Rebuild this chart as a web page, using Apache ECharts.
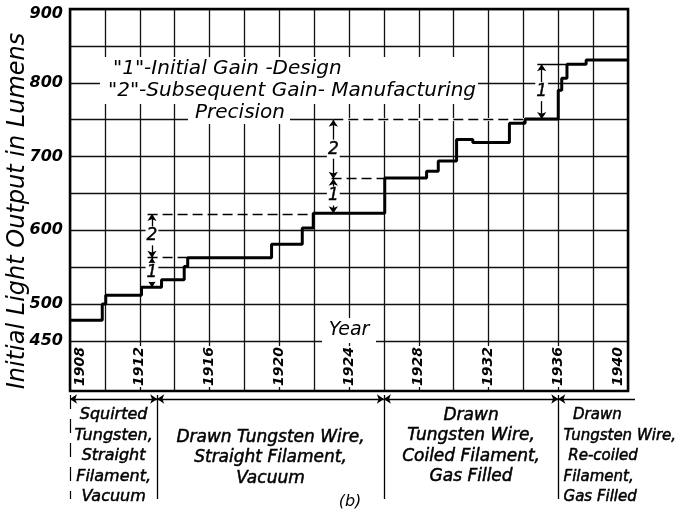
<!DOCTYPE html>
<html>
<head>
<meta charset="utf-8">
<script src="https://cdn.jsdelivr.net/npm/echarts@6/dist/echarts.min.js"></script>
<style>
  html, body { margin: 0; padding: 0; background: #fff; }
  #chart { width: 681px; height: 513px; }
</style>
</head>
<body>
<div id="chart"></div>
<script>
// Initial light output of the lamp: year each new level begins and its value in lumens
const stepYears  = [1908, 1909.85, 1910.05, 1912.1, 1913.25, 1914.55, 1914.75, 1919.56, 1921.32, 1921.95,
                    1926.05, 1928.45, 1929.12, 1930.17, 1931.1, 1933.2, 1934.1, 1936.0, 1936.2, 1936.5, 1937.6];
const stepLumens = [478, 500, 512, 523, 533, 551, 563, 581, 603, 623,
                    671, 680, 694, 723, 719, 745, 751, 790, 806, 825, 831];
const lastYear = 1940;

// Axis labels
const yearTicks  = [1908, 1912, 1916, 1920, 1924, 1928, 1932, 1936, 1940];
const lumenTicks = [450, 500, 600, 700, 800, 900];

// Gain brackets ("1" initial gain, "2" subsequent gain)
const bracketYears = [1912.7, 1912.7, 1923.1, 1923.1, 1935.05];
const bracketFrom  = [523, 563, 623, 670, 751];
const bracketTo    = [563, 622, 670, 750, 825];
const bracketTags  = ['1', '2', '1', '2', '1'];

// Reference lines leading to the brackets
const guideLevel  = [622, 563, 750, 670, 825];
const guideFrom   = [1912.45, 1912.45, 1923.1, 1923.0, 1934.8];
const guideTo     = [1921.95, 1914.75, 1934.1, 1926.05, 1936.5];
const guideDashed = [true, true, true, true, false];

// Lamp construction eras
const eraBounds = [1908, 1913, 1926, 1936];
const eraEnd = 1940.4;
const eraText = [
  'Squirted\nTungsten,\nStraight\nFilament,\nVacuum',
  'Drawn Tungsten Wire,\nStraight Filament,\nVacuum',
  'Drawn\nTungsten Wire,\nCoiled Filament,\nGas Filled',
  '  Drawn\nTungsten Wire,\n Re-coiled\nFilament,\nGas Filled'
];

const FONT = 'DejaVu Sans';

// step outline: horizontal run for each level, vertical rise at the next year
const stepPts = [];
stepYears.forEach((y, i) => {
  const end = i < stepYears.length - 1 ? stepYears[i + 1] : lastYear;
  stepPts.push([y, stepLumens[i]]);
  stepPts.push([end, stepLumens[i]]);
});

const seg = (x1, y1, x2, y2) => ({ coords: [[x1, y1], [x2, y2]] });

const dashedGuides = [], solidGuides = [], maskGuides = [];
guideLevel.forEach((v, i) => {
  const s = seg(guideFrom[i], v, guideTo[i], v);
  (guideDashed[i] ? dashedGuides : solidGuides).push(s);
  if (guideDashed[i] && v % 50 === 0) maskGuides.push(s);
});
const bracketSegs = bracketYears.map((y, i) => seg(y, bracketFrom[i], y, bracketTo[i]));

// construction era panel
const eraSeparators = eraBounds.map(b => seg(b, 2, b, 106));
const eraDims = [];
eraBounds.forEach((b, i) => {
  if (i < eraBounds.length - 1) eraDims.push(seg(b, 6, eraBounds[i + 1], 6));
});
const eraOpenDim = [seg(eraBounds[eraBounds.length - 1], 6, eraEnd, 6)];

const gridLine = { lineStyle: { color: '#111', width: 1.3 } };

const option = {
  animation: false,
  backgroundColor: '#fff',
  grid: [
    { left: 70, top: 9, width: 558, height: 332 },
    { left: 70, top: 341, width: 558, height: 50 },
    { left: 70, top: 9, width: 558, height: 382, show: true, borderColor: '#000', borderWidth: 2.5,
      backgroundColor: 'transparent', z: 3 },
    { left: 70, top: 393, width: 565, height: 115 }
  ],
  xAxis: [
    { gridIndex: 0, type: 'value', min: 1908, max: 1940, interval: 2,
      axisLine: { show: false }, axisTick: { show: false }, axisLabel: { show: false }, splitLine: gridLine },
    { gridIndex: 1, type: 'value', min: 1908, max: 1940, interval: 2,
      axisLine: { show: false }, axisTick: { show: false }, splitLine: gridLine,
      axisLabel: {
        inside: true, rotate: 90, margin: 4,
        formatter: v => {
          if (!yearTicks.includes(v)) return '';
          if (v === yearTicks[0]) return '{s| }\n{y|' + v + '}';
          if (v === yearTicks[yearTicks.length - 1]) return '{y|' + v + '}\n{s| }';
          return '{y|' + v + '}';
        },
        rich: {
          y: { fontFamily: FONT, fontSize: 14, fontStyle: 'italic', fontWeight: 'bold', color: '#000',
               backgroundColor: '#fff', padding: [0, 1], lineHeight: 16 },
          s: { fontSize: 10, height: 20, lineHeight: 20 }
        }
      } },
    { gridIndex: 2, type: 'value', min: 1908, max: 1940, show: false },
    { gridIndex: 3, type: 'value', min: 1908, max: eraEnd, show: false }
  ],
  yAxis: [
    { gridIndex: 0, type: 'value', min: 450, max: 900, interval: 50,
      axisLine: { show: false }, axisTick: { show: false }, splitLine: gridLine,
      axisLabel: {
        margin: 7, fontFamily: FONT, fontSize: 16, fontStyle: 'italic', fontWeight: 'bold', color: '#000',
        formatter: v => lumenTicks.includes(v) ? (v === 900 ? '{t|900}' : String(v)) : '',
        rich: { t: { fontFamily: FONT, fontSize: 16, fontStyle: 'italic', fontWeight: 'bold', color: '#000',
                     padding: [10, 0, 0, 0] } }
      } },
    { gridIndex: 1, type: 'value', min: 0, max: 1, show: false },
    { gridIndex: 2, type: 'value', min: 0, max: 1, show: false },
    { gridIndex: 3, type: 'value', min: 0, max: 115, inverse: true, show: false }
  ],
  series: [
    { name: 'Initial light output', type: 'line', xAxisIndex: 0, yAxisIndex: 0, data: stepPts,
      symbol: 'none', lineStyle: { color: '#000', width: 3 }, z: 5, silent: true },
    { type: 'lines', coordinateSystem: 'cartesian2d', xAxisIndex: 0, yAxisIndex: 0, data: maskGuides,
      lineStyle: { color: '#fff', width: 3, opacity: 1 }, z: 3, silent: true },
    { type: 'lines', coordinateSystem: 'cartesian2d', xAxisIndex: 0, yAxisIndex: 0, data: dashedGuides,
      lineStyle: { color: '#000', width: 1.4, type: [10, 5], opacity: 1 }, z: 4, silent: true },
    { type: 'lines', coordinateSystem: 'cartesian2d', xAxisIndex: 0, yAxisIndex: 0, data: solidGuides,
      lineStyle: { color: '#000', width: 1.4, opacity: 1 }, z: 4, silent: true },
    { type: 'lines', coordinateSystem: 'cartesian2d', xAxisIndex: 0, yAxisIndex: 0, data: bracketSegs,
      symbol: ['arrow', 'arrow'], symbolSize: 7,
      lineStyle: { color: '#000', width: 1.3, opacity: 1 }, z: 4, silent: true },
    { type: 'lines', coordinateSystem: 'cartesian2d', xAxisIndex: 3, yAxisIndex: 3, data: eraSeparators.slice(1),
      lineStyle: { color: '#000', width: 1.3, opacity: 1 }, silent: true },
    { type: 'lines', coordinateSystem: 'cartesian2d', xAxisIndex: 3, yAxisIndex: 3, data: eraSeparators.slice(0, 1),
      lineStyle: { color: '#000', width: 1.2, type: [14, 10], opacity: 1 }, silent: true },
    { type: 'lines', coordinateSystem: 'cartesian2d', xAxisIndex: 3, yAxisIndex: 3, data: eraDims,
      symbol: ['arrow', 'arrow'], symbolSize: 7,
      lineStyle: { color: '#000', width: 1.3, opacity: 1 }, silent: true },
    { type: 'lines', coordinateSystem: 'cartesian2d', xAxisIndex: 3, yAxisIndex: 3, data: eraOpenDim,
      symbol: ['arrow', 'none'], symbolSize: 7,
      lineStyle: { color: '#000', width: 1.3, opacity: 1 }, silent: true }
  ]
};

const chart = echarts.init(document.getElementById('chart'), null, { renderer: 'canvas' });
chart.setOption(option);

const txt = (id, x, y, text, size, extra, rotation) => ({
  type: 'text', id, x, y, z: 20, rotation: rotation || 0,
  style: Object.assign({
    text, fontFamily: FONT, fontSize: size, fontStyle: 'italic', fill: '#000',
    align: 'left', textAlign: 'left', verticalAlign: 'middle', textVerticalAlign: 'middle'
  }, extra || {})
});

// bracket tags sit at the middle of each bracket, on a white patch that breaks the line
const plotPx = (x, y) => chart.convertToPixel({ xAxisIndex: 0, yAxisIndex: 0 }, [x, y]);
const tagGraphics = bracketYears.map((y, i) => {
  const p = plotPx(y, (bracketFrom[i] + bracketTo[i]) / 2);
  return txt('tag' + i, p[0], p[1], bracketTags[i], 17,
             { align: 'center', textAlign: 'center', backgroundColor: '#fff', padding: [1, 1],
               stroke: '#000', lineWidth: 0.4 });
});

const px = y => chart.convertToPixel({ xAxisIndex: 3, yAxisIndex: 3 }, [y, 0]);
const eraStyle = { stroke: '#000', lineWidth: 0.5, verticalAlign: 'top', textVerticalAlign: 'top', lineHeight: 20.5 };
const eraGraphics = eraText.map((t, i) => {
  const a = eraBounds[i], b = i < eraBounds.length - 1 ? eraBounds[i + 1] : eraEnd;
  if (i === eraBounds.length - 1) {
    const p = px(a + 0.3);
    return txt('era' + i, p[0], 405, t, 15, Object.assign({}, eraStyle));
  }
  const p = px((a + b) / 2);
  const top = i === 1 ? 427 : 405;
  return txt('era' + i, p[0], top, t, i === 0 ? 16 : 17,
             Object.assign({}, eraStyle, { align: 'center', textAlign: 'center' }));
});

chart.setOption({
  graphic: [
    txt('ytitle', 18, 211, 'Initial Light Output in Lumens', 24,
        { align: 'center', textAlign: 'center' }, Math.PI / 2),
    { type: 'rect', id: 'boxA', z: 19, shape: { x: 100, y: 57, width: 378, height: 47 }, style: { fill: '#fff' } },
    { type: 'rect', id: 'boxB', z: 19, shape: { x: 188, y: 104, width: 102, height: 20 }, style: { fill: '#fff' } },
    txt('note1', 113, 69, '"1"-Initial Gain -Design', 20),
    txt('note2', 108, 91, '"2"-Subsequent Gain- Manufacturing', 20),
    txt('note3', 240, 113, 'Precision', 20, { align: 'center', textAlign: 'center' }),
    { type: 'rect', id: 'boxYear', z: 19, shape: { x: 322, y: 318, width: 54, height: 25 }, style: { fill: '#fff' } },
    txt('year', 349, 330, 'Year', 19, { align: 'center', textAlign: 'center' }),
    txt('fig', 350, 502, '(b)', 16, { align: 'center', textAlign: 'center' })
  ].concat(tagGraphics, eraGraphics)
});
</script>
</body>
</html>
